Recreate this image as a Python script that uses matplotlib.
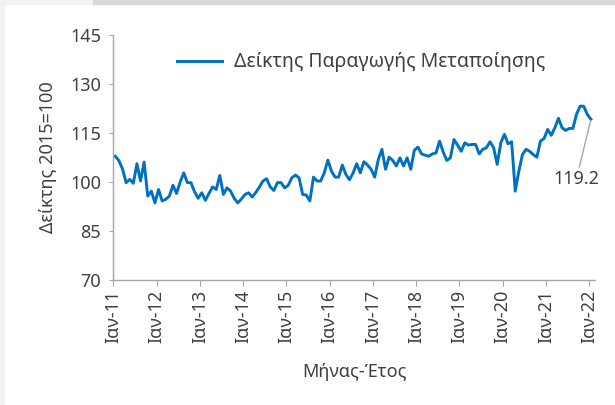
import numpy as np
import matplotlib
matplotlib.use('Agg')
import matplotlib.pyplot as plt
from matplotlib.patches import Rectangle

plt.rcParams['font.family'] = ['Noto Sans', 'DejaVu Sans']

# Δείκτης Παραγωγής Μεταποίησης, μηνιαία, Ιαν-11 .. Ιαν-22 (2015=100)
y2011 = [107.9, 106.5, 104.0, 99.8, 100.8, 99.6, 105.6, 100.3, 106.1, 95.7, 97.2, 93.6]
y2012 = [97.7, 94.2, 94.7, 95.7, 99.0, 96.5, 100.0, 102.8, 99.8, 99.8, 97.0, 95.0]
y2013 = [96.7, 94.4, 96.5, 98.5, 97.7, 102.0, 96.2, 98.2, 97.2, 95.0, 93.6, 94.8]
y2014 = [96.2, 96.7, 95.4, 96.8, 98.5, 100.3, 101.0, 98.5, 97.4, 99.8, 99.8, 98.2]
y2015 = [99.0, 101.3, 102.1, 101.3, 96.2, 96.0, 94.2, 101.5, 100.3, 100.3, 102.8, 106.7]
y2016 = [103.3, 101.5, 101.5, 105.2, 102.3, 100.7, 102.8, 105.6, 102.8, 106.2, 105.2, 103.9]
y2017 = [101.5, 106.9, 110.0, 103.9, 107.6, 106.6, 104.9, 107.4, 104.9, 107.4, 103.9, 109.7]
y2018 = [110.7, 108.6, 108.2, 107.9, 108.6, 108.9, 112.5, 109.2, 106.6, 107.4, 113.0, 111.3]
y2019 = [109.4, 112.0, 111.3, 111.5, 111.5, 108.6, 110.0, 110.5, 112.3, 110.5, 105.4, 112.0]
y2020 = [114.6, 111.7, 112.3, 97.2, 103.3, 108.4, 110.0, 109.4, 108.4, 107.6, 112.5, 113.3]
y2021 = [116.1, 114.3, 116.6, 119.5, 116.6, 115.8, 116.4, 116.4, 120.7, 123.2, 123.2, 120.7]
y2022 = [119.2]

values = np.array(y2011 + y2012 + y2013 + y2014 + y2015 + y2016 + y2017 + y2018
                  + y2019 + y2020 + y2021 + y2022)
months = np.arange(len(values))

tick_labels = ['Ιαν-11', 'Ιαν-12', 'Ιαν-13', 'Ιαν-14', 'Ιαν-15', 'Ιαν-16',
               'Ιαν-17', 'Ιαν-18', 'Ιαν-19', 'Ιαν-20', 'Ιαν-21', 'Ιαν-22']
y_ticks = [70, 85, 100, 115, 130, 145]

blue = '#0070C0'
txt = '#404040'
grey = '#A6A6A6'

fig = plt.figure(figsize=(6.15, 4.05), dpi=100)
fig.patch.set_facecolor('white')

# λωρίδες περιθωρίου (περικομμένη εικόνα)
fig.patches.append(Rectangle((0, 0), 4 / 615, 1, transform=fig.transFigure,
                             color='#F2F2F2', zorder=0))
fig.patches.append(Rectangle((0, 1 - 4 / 405), 93 / 615, 4 / 405,
                             transform=fig.transFigure, color='#F2F2F2', zorder=0))
fig.patches.append(Rectangle((93 / 615, 1 - 4 / 405), 1, 4 / 405,
                             transform=fig.transFigure, color='#D9D9D9', zorder=0))

ax = fig.add_axes([113.5 / 615, 125 / 405, 481 / 615, 245 / 405])
ax.plot(months, values, color=blue, lw=2.1, label='Δείκτης Παραγωγής Μεταποίησης')

ax.set_xlim(-0.5, 133)
ax.set_ylim(70, 145)
ax.set_yticks(y_ticks)
ax.set_xticks(np.arange(0, len(values), 12) - 0.5)
ax.set_xticklabels(tick_labels, rotation=90)

for s in ['top', 'right']:
    ax.spines[s].set_visible(False)
for s in ['left', 'bottom']:
    ax.spines[s].set_color(grey)
    ax.spines[s].set_linewidth(1.0)
ax.tick_params(axis='y', length=3, color=grey, labelsize=13, labelcolor=txt, pad=6)
ax.tick_params(axis='x', length=4, color=grey, labelsize=13, labelcolor=txt, pad=3)

ax.set_ylabel('Δείκτης 2015=100', fontsize=13, color=txt, labelpad=9)
ax.set_xlabel('Μήνας-Έτος', fontsize=13, color=txt, labelpad=14)

ax.legend(loc='upper center', bbox_to_anchor=(0.515, 1.0), frameon=False,
          fontsize=14, labelcolor=txt, handlelength=2.3, handletextpad=0.6)

# ετικέτα τελευταίας τιμής
ax.annotate(f'{values[-1]:.1f}', xy=(months[-1], values[-1]),
            xytext=(months[-1] - 4, values[-1] - 21), ha='center', va='bottom',
            fontsize=13, color=txt,
            arrowprops=dict(arrowstyle='-', color=grey, lw=1.0, shrinkA=0, shrinkB=1))

fig.savefig('out.png', dpi=100)
